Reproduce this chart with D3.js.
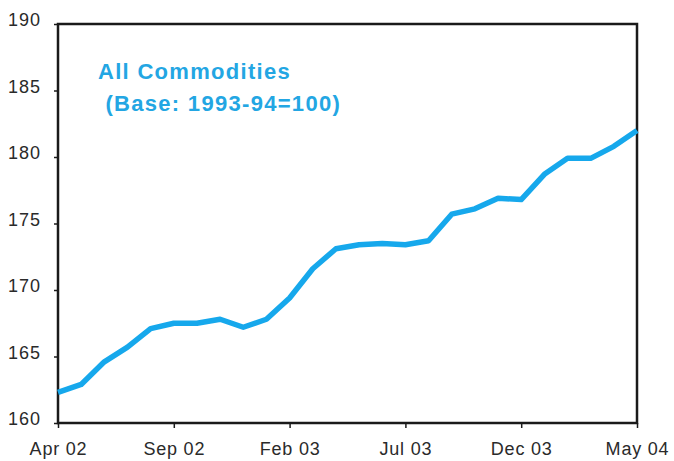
<!DOCTYPE html>
<html>
<head>
<meta charset="utf-8">
<script src="https://cdn.jsdelivr.net/npm/d3@7"></script>
<style>
  html, body { margin: 0; padding: 0; background: #fff; }
  svg { display: block; }
  text { font-family: "Liberation Sans", Arial, sans-serif; }
</style>
</head>
<body>
<svg id="chart" width="674" height="461"></svg>
<script>
const months = ["Apr 02","May 02","Jun 02","Jul 02","Aug 02","Sep 02","Oct 02","Nov 02","Dec 02",
  "Jan 03","Feb 03","Mar 03","Apr 03","May 03","Jun 03","Jul 03","Aug 03","Sep 03","Oct 03",
  "Nov 03","Dec 03","Jan 04","Feb 04","Mar 04","Apr 04","May 04"];
const values = [162.3,162.9,164.6,165.7,167.1,167.5,167.5,167.8,167.2,167.8,169.4,171.6,173.1,
  173.4,173.5,173.4,173.7,175.7,176.1,176.9,176.8,178.7,179.9,179.9,180.8,182.0];
const xTickLabels = ["Apr 02","Sep 02","Feb 03","Jul 03","Dec 03","May 04"];
const yTicks = [160,165,170,175,180,185,190];
const titleLines = ["All Commodities"," (Base: 1993-94=100)"];

const svg = d3.select("#chart");
const mLeft = 58, mRight = 637, mTop = 24, mBottom = 423;

const x = d3.scalePoint().domain(months).range([mLeft, mRight]);
const y = d3.scaleLinear().domain([160, 190]).range([mBottom, mTop]);

// frame
svg.append("rect")
  .attr("x", mLeft).attr("y", mTop)
  .attr("width", mRight - mLeft).attr("height", mBottom - mTop)
  .attr("fill", "none").attr("stroke", "#1a1a1a").attr("stroke-width", 2.5);

// y axis
const yAxis = svg.append("g").attr("transform", `translate(${mLeft},0)`)
  .call(d3.axisLeft(y).tickValues(yTicks).tickSize(4).tickPadding(13).tickFormat(d3.format("d")));
yAxis.select(".domain").remove();
yAxis.selectAll("line").attr("stroke", "#1a1a1a").attr("stroke-width", 1.5);
yAxis.selectAll("text").attr("font-size", 18).attr("fill", "#2a2a2a")
  .attr("letter-spacing", "1px").attr("dy", "0.1em");

// x axis
const xAxis = svg.append("g").attr("transform", `translate(0,${mBottom})`)
  .call(d3.axisBottom(x).tickValues(xTickLabels).tickSize(5).tickPadding(14));
xAxis.select(".domain").remove();
xAxis.selectAll("line").attr("stroke", "#1a1a1a").attr("stroke-width", 1.5);
xAxis.selectAll("text").attr("font-size", 18).attr("fill", "#2a2a2a").attr("letter-spacing", "0.8px");

// line
const line = d3.line().x((d, i) => x(months[i])).y(d => y(d));
svg.append("path").datum(values)
  .attr("d", line)
  .attr("fill", "none")
  .attr("stroke", "#16a8ec")
  .attr("stroke-width", 5.5)
  .attr("stroke-linejoin", "round")
  .attr("stroke-linecap", "butt");

// title
svg.append("g").selectAll("text").data(titleLines).enter().append("text")
  .attr("x", 98)
  .attr("y", (d, i) => 79 + i * 32)
  .attr("xml:space", "preserve")
  .style("white-space", "pre")
  .attr("font-size", 22)
  .attr("font-weight", "bold")
  .attr("letter-spacing", "1.3px")
  .attr("fill", "#23a6e3")
  .text(d => d);
</script>
</body>
</html>
